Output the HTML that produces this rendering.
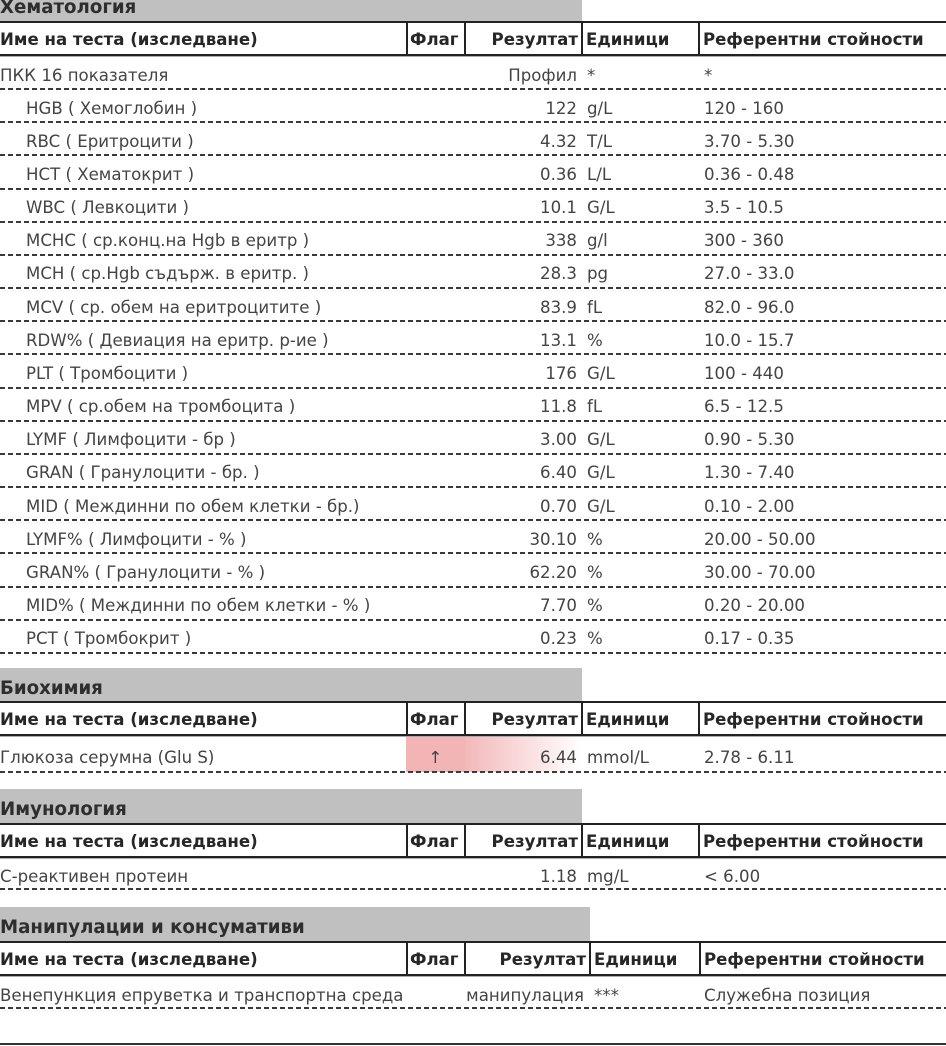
<!DOCTYPE html>
<html><head><meta charset="utf-8">
<style>
*{box-sizing:border-box}
body{margin:0;width:946px;height:1046px;position:relative;overflow:hidden;background:#fff;font-family:"DejaVu Sans","Liberation Sans",sans-serif;color:#444;}
.bar{position:absolute;left:0;height:34px;background:#c0c0c0;}
.bar b{position:absolute;left:0;top:10px;font-size:18.2px;line-height:normal;color:#2e2e2e;white-space:nowrap;}
.hdr{position:absolute;left:0;width:946px;height:35px;border-top:2px solid #222;border-bottom:2px solid #222;box-shadow:0 1px 0 #aaa;font-weight:bold;font-size:16.6px;color:#262626;}
.hdr span{position:absolute;top:6.5px;line-height:normal;white-space:nowrap;}
.v{position:absolute;top:-2px;bottom:-2px;width:2px;background:#222;}
.rows{position:absolute;left:0;width:946px;}
.row{position:relative;width:946px;font-size:16.6px;}
.row span{position:absolute;line-height:normal;white-space:nowrap;}
.row::after{content:"";position:absolute;left:0;right:0;bottom:-1px;height:2px;background:repeating-linear-gradient(to right,#3a3a3a 0 5px,transparent 5px 8px);}
.s1 .row{height:33.17px;}
.s1 .row span{top:9.5px;}
.n{left:0}
.i{left:26px}
.r{right:369px}
.u{left:587px}
.f{left:704px}
</style></head><body>

<!-- Section 1 -->
<div class="bar" style="top:-13px;width:582px"><b>Хематология</b></div>
<div class="hdr" style="top:21px">
<span style="left:0">Име на теста (изследване)</span>
<span style="left:410px">Флаг</span>
<span style="right:368px">Резултат</span>
<span style="left:586px">Единици</span>
<span style="left:703px">Референтни стойности</span>
<div class="v" style="left:406px"></div><div class="v" style="left:464px"></div><div class="v" style="left:581px"></div><div class="v" style="left:698px"></div>
</div>
<div class="rows s1" style="top:56px">
<div class="row"><span class="n">ПКК 16 показателя</span><span class="r">Профил</span><span class="u">*</span><span class="f">*</span></div>
<div class="row"><span class="i">HGB ( Хемоглобин )</span><span class="r">122</span><span class="u">g/L</span><span class="f">120 - 160</span></div>
<div class="row"><span class="i">RBC ( Еритроцити )</span><span class="r">4.32</span><span class="u">T/L</span><span class="f">3.70 - 5.30</span></div>
<div class="row"><span class="i">HCT ( Хематокрит )</span><span class="r">0.36</span><span class="u">L/L</span><span class="f">0.36 - 0.48</span></div>
<div class="row"><span class="i">WBC ( Левкоцити )</span><span class="r">10.1</span><span class="u">G/L</span><span class="f">3.5 - 10.5</span></div>
<div class="row"><span class="i">MCHC ( ср.конц.на Hgb в еритр )</span><span class="r">338</span><span class="u">g/l</span><span class="f">300 - 360</span></div>
<div class="row"><span class="i">MCH ( ср.Hgb съдърж. в еритр. )</span><span class="r">28.3</span><span class="u">pg</span><span class="f">27.0 - 33.0</span></div>
<div class="row"><span class="i">MCV ( ср. обем на еритроцитите )</span><span class="r">83.9</span><span class="u">fL</span><span class="f">82.0 - 96.0</span></div>
<div class="row"><span class="i">RDW% ( Девиация на еритр. р-ие )</span><span class="r">13.1</span><span class="u">%</span><span class="f">10.0 - 15.7</span></div>
<div class="row"><span class="i">PLT ( Тромбоцити )</span><span class="r">176</span><span class="u">G/L</span><span class="f">100 - 440</span></div>
<div class="row"><span class="i">MPV ( ср.обем на тромбоцита )</span><span class="r">11.8</span><span class="u">fL</span><span class="f">6.5 - 12.5</span></div>
<div class="row"><span class="i">LYMF ( Лимфоцити - бр )</span><span class="r">3.00</span><span class="u">G/L</span><span class="f">0.90 - 5.30</span></div>
<div class="row"><span class="i">GRAN ( Гранулоцити - бр. )</span><span class="r">6.40</span><span class="u">G/L</span><span class="f">1.30 - 7.40</span></div>
<div class="row"><span class="i">MID ( Междинни по обем клетки - бр.)</span><span class="r">0.70</span><span class="u">G/L</span><span class="f">0.10 - 2.00</span></div>
<div class="row"><span class="i">LYMF% ( Лимфоцити - % )</span><span class="r">30.10</span><span class="u">%</span><span class="f">20.00 - 50.00</span></div>
<div class="row"><span class="i">GRAN% ( Гранулоцити - % )</span><span class="r">62.20</span><span class="u">%</span><span class="f">30.00 - 70.00</span></div>
<div class="row"><span class="i">MID% ( Междинни по обем клетки - % )</span><span class="r">7.70</span><span class="u">%</span><span class="f">0.20 - 20.00</span></div>
<div class="row"><span class="i">PCT ( Тромбокрит )</span><span class="r">0.23</span><span class="u">%</span><span class="f">0.17 - 0.35</span></div>
</div>

<!-- Section 2 -->
<div class="bar" style="top:668px;width:582px"><b>Биохимия</b></div>
<div class="hdr" style="top:701px">
<span style="left:0">Име на теста (изследване)</span>
<span style="left:410px">Флаг</span>
<span style="right:368px">Резултат</span>
<span style="left:586px">Единици</span>
<span style="left:703px">Референтни стойности</span>
<div class="v" style="left:406px"></div><div class="v" style="left:464px"></div><div class="v" style="left:581px"></div><div class="v" style="left:698px"></div>
</div>
<div class="rows" style="top:736px">
<div class="row" style="height:36px">
<div style="position:absolute;left:406px;top:1px;width:59px;height:35px;background:#f3b4b6"></div>
<div style="position:absolute;left:465px;top:1px;width:117px;height:35px;background:linear-gradient(to right,#f3b8ba 0%,#f9d8d9 45%,#fff 100%)"></div>
<span class="n" style="top:11.5px">Глюкоза серумна (Glu S)</span>
<span style="top:11.5px;left:406px;width:59px;text-align:center">↑</span>
<span class="r" style="top:11.5px">6.44</span><span class="u" style="top:11.5px">mmol/L</span><span class="f" style="top:11.5px">2.78 - 6.11</span></div>
</div>

<!-- Section 3 -->
<div class="bar" style="top:789px;width:582px"><b>Имунология</b></div>
<div class="hdr" style="top:823px">
<span style="left:0">Име на теста (изследване)</span>
<span style="left:410px">Флаг</span>
<span style="right:368px">Резултат</span>
<span style="left:586px">Единици</span>
<span style="left:703px">Референтни стойности</span>
<div class="v" style="left:406px"></div><div class="v" style="left:464px"></div><div class="v" style="left:581px"></div><div class="v" style="left:698px"></div>
</div>
<div class="rows" style="top:858px">
<div class="row" style="height:31px"><span class="n" style="top:8.5px">С-реактивен протеин</span><span class="r" style="top:8.5px">1.18</span><span class="u" style="top:8.5px">mg/L</span><span class="f" style="top:8.5px">&lt; 6.00</span></div>
</div>

<!-- Section 4 -->
<div class="bar" style="top:907px;width:590px"><b>Манипулации и консумативи</b></div>
<div class="hdr" style="top:941px">
<span style="left:0">Име на теста (изследване)</span>
<span style="left:410px">Флаг</span>
<span style="right:360px">Резултат</span>
<span style="left:594px">Единици</span>
<span style="left:704px">Референтни стойности</span>
<div class="v" style="left:406px"></div><div class="v" style="left:464px"></div><div class="v" style="left:589px"></div><div class="v" style="left:699px"></div>
</div>
<div class="rows" style="top:976px">
<div class="row" style="height:32px"><span class="n" style="top:9.5px">Венепункция епруветка и транспортна среда</span><span style="top:9.5px;right:362px">манипулация</span><span style="top:9.5px;left:594px">***</span><span style="top:9.5px;left:704px">Служебна позиция</span></div>
</div>

<div style="position:absolute;left:0;top:1043px;width:946px;height:2px;background:#333"></div>
</body></html>
